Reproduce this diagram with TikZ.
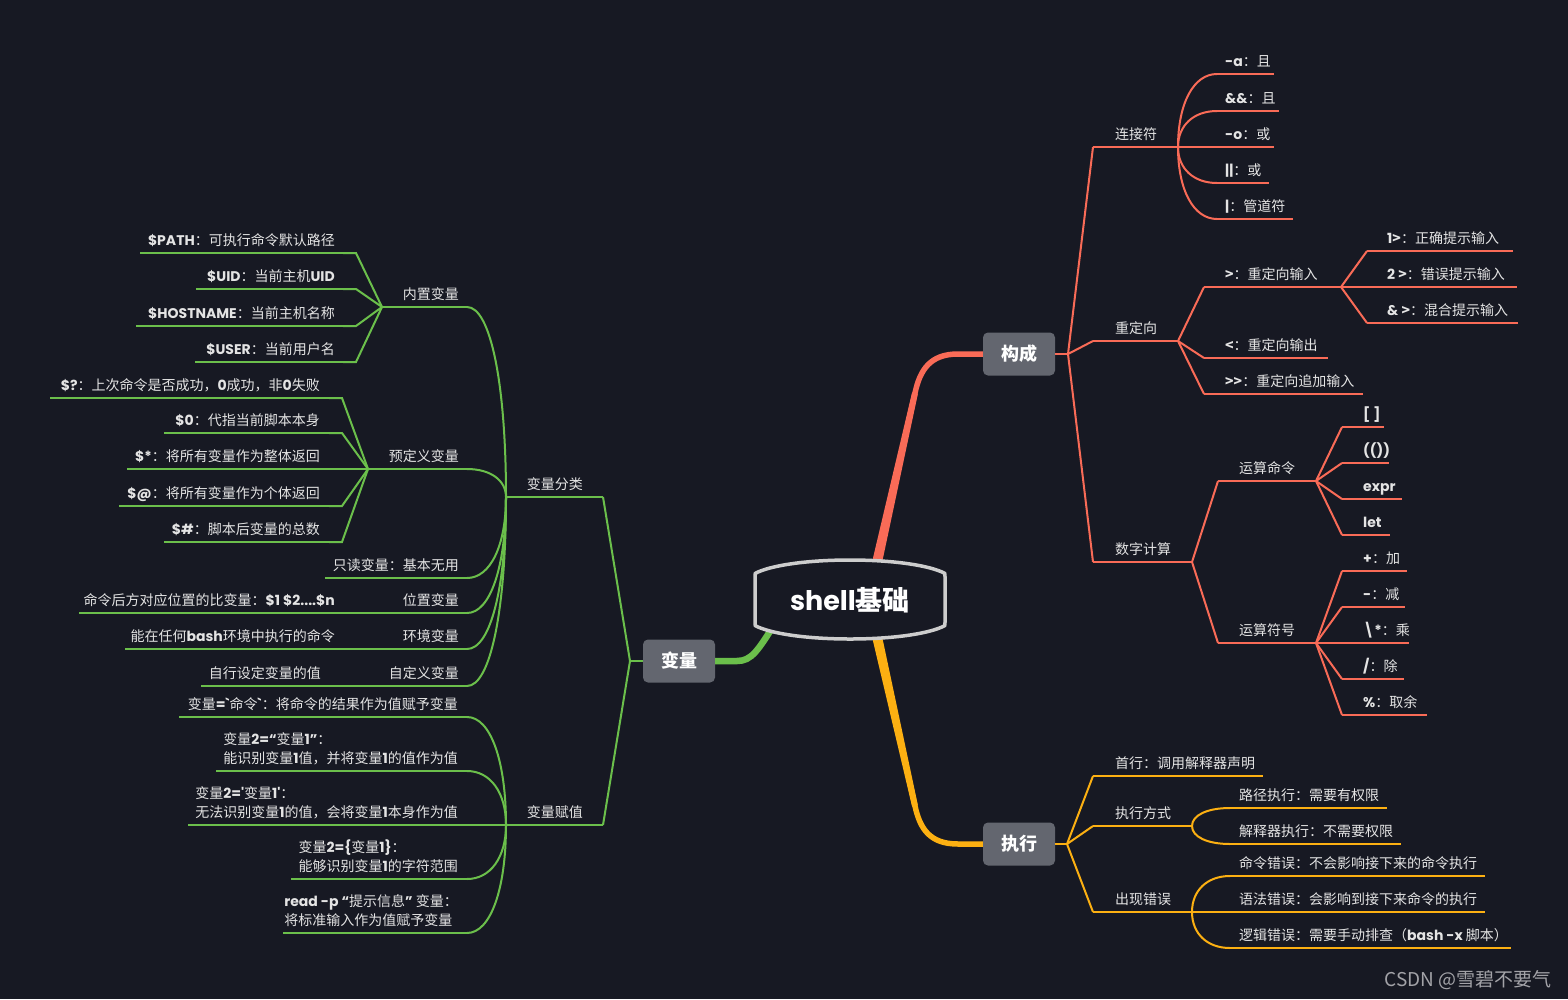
\documentclass[tikz,border=0pt]{standalone}
\usepackage{fontspec}
\setmainfont{Noto Sans CJK SC}
\newfontfamily\lbf{Poppins}
\usetikzlibrary{calc}
\definecolor{bgc}{HTML}{171923}
\definecolor{redc}{HTML}{F96B57}
\definecolor{grnc}{HTML}{6BBF4B}
\definecolor{ylwc}{HTML}{FCB012}
\definecolor{boxc}{HTML}{63666F}
\definecolor{txtc}{HTML}{E4E4E4}
\definecolor{wmc}{HTML}{A3A3A8}
\definecolor{rimc}{HTML}{CDCDCD}
\newcommand\lt[1]{{\lbf\bfseries #1}}
\newcommand\leafR[6]{%
  \coordinate (#1-s) at (#2,#3);
  \coordinate (#1-e) at (#4,#3);
  \node[lbl,anchor=base west] (#1) at (#5,#3-8) {#6};
  \draw[br] (#1-s) -- (#1-e);}
\newcommand\leafL[6]{%
  \coordinate (#1-s) at (#2,#3);
  \coordinate (#1-e) at (#4,#3);
  \node[lbl,anchor=base east] (#1) at (#5,#3-8) {#6};
  \draw[br] (#1-s) -- (#1-e);}
\newcommand\cv[2]{\draw[br] let \p1=(#1), \p2=(#2) in (\p1) .. controls (\x1,{\y1+0.6*(\y2-\y1)}) and ({\x2-0.6*(\x2-\x1)},\y2) .. (\p2);}
\begin{document}
\begin{tikzpicture}[x=1pt,y=-1pt,
  br/.style={line width=2pt,draw=redc},
  lbl/.style={inner sep=0pt,text=txtc,font=\fontsize{14}{19}\selectfont,align=left},
  topic/.style={fill=boxc,rounded corners=5pt,minimum width=72pt,minimum height=43pt,text=white,font=\fontsize{18}{18}\selectfont\bfseries,inner sep=0pt},
  thick/.style={line width=5.5pt}]
\fill[bgc] (0,0) rectangle (1568,999);
\useasboundingbox (0,0) rectangle (1568,999);

% anchors on the central topic
\coordinate (rootN) at (876,566);
\coordinate (rootS) at (876,633);
\coordinate (rootW) at (776,622);

% topic boxes
\node[topic] (gc) at (1019,354) {构成};
\node[topic] (zx) at (1019,844) {执行};
\node[topic] (bl) at (679,661) {变量};

% thick main branches (tapered)
\fill[redc] (871.1,566) -- (880.9,568) -- (917.9,393.7) -- (912.1,392.3) -- cycle;
\draw[thick,draw=redc] (rootN) -- (915,393) .. controls (920,370) and (930,354) .. (958,354) -- (gc.west);
\fill[ylwc] (871.1,633) -- (880.9,631) -- (917.9,805.3) -- (912.1,806.7) -- cycle;
\draw[thick,draw=ylwc] (rootS) -- (915,806) .. controls (920,829) and (930,844) .. (958,844) -- (zx.west);
\draw[line width=6.5pt,draw=grnc] (rootW) .. controls (758,650) and (752,661) .. (737,661) -- (bl.east);

% central topic
\path[draw=rimc,line width=3.5pt,fill=bgc]
  (758,572) .. controls (795,556) and (905,556) .. (942,572)
  .. controls (945,573) .. (945,577) -- (945,622) .. controls (945,626) .. (942,627)
  .. controls (905,643) and (795,643) .. (758,627)
  .. controls (755,626) .. (755,622) -- (755,577) .. controls (755,573) .. (758,572) -- cycle;
\node[text=white,font=\fontsize{27}{27}\selectfont\bfseries,inner sep=0pt] (root) at (850,600) {\lt{shell}基础};

% ---------- red: 构成 ----------
\begin{scope}[br/.style={line width=2pt,draw=redc}]
\coordinate (R0) at (1068,354);
\draw[br] (gc.east) -- (R0);
\leafR{ljf}{1093}{147}{1178}{1115}{连接符}
\draw[br] (R0) -- (ljf-s);
\leafR{a1}{1217}{74}{1274}{1225}{\lt{-a}：且}
\leafR{a2}{1217}{111}{1279}{1225}{\lt{\&\&}：且}
\leafR{a3}{1217}{147}{1274}{1225}{\lt{-o}：或}
\leafR{a4}{1217}{183}{1269}{1225}{\lt{||}：或}
\leafR{a5}{1217}{219}{1293}{1225}{\lt{|}：管道符}
\cv{ljf-e}{a1-s}\cv{ljf-e}{a2-s}\cv{ljf-e}{a3-s}\cv{ljf-e}{a4-s}\cv{ljf-e}{a5-s}

\leafR{cdx}{1093}{341}{1178}{1115}{重定向}
\draw[br] (R0) -- (cdx-s);
\leafR{b1}{1204}{287}{1341}{1225}{\textbf{>}：重定向输入}
\leafR{b2}{1204}{358}{1328}{1225}{\textbf{<}：重定向输出}
\leafR{b3}{1204}{394}{1363}{1225}{\textbf{>{}>}：重定向追加输入}
\draw[br] (cdx-e) -- (b1-s);
\draw[br] (cdx-e) -- (b2-s);
\draw[br] (cdx-e) -- (b3-s);
\leafR{c1}{1367}{251}{1513}{1387}{\lt{1}\textbf{>}：正确提示输入}
\leafR{c2}{1367}{287}{1517}{1387}{\lt{2} \textbf{>}：错误提示输入}
\leafR{c3}{1367}{323}{1518}{1387}{\lt{\&} \textbf{>}：混合提示输入}
\draw[br] (b1-e) -- (c1-s);
\draw[br] (b1-e) -- (c2-s);
\draw[br] (b1-e) -- (c3-s);

\leafR{szjs}{1093}{562}{1192}{1115}{数字计算}
\draw[br] (R0) -- (szjs-s);
\leafR{ysml}{1218}{481}{1316}{1239}{运算命令}
\leafR{ysfh}{1218}{643}{1316}{1239}{运算符号}
\draw[br] (szjs-e) -- (ysml-s);
\draw[br] (szjs-e) -- (ysfh-s);
\leafR{d1}{1342}{427}{1384}{1363}{\lt{[ ]}}
\leafR{d2}{1342}{463}{1389}{1363}{\lt{(())}}
\leafR{d3}{1342}{499}{1402}{1363}{\lt{expr}}
\leafR{d4}{1342}{535}{1390}{1363}{\lt{let}}
\foreach \q in {d1,d2,d3,d4} {\draw[br] (ysml-e) -- (\q-s);}
\leafR{e1}{1342}{571}{1407}{1363}{\lt{+}：加}
\leafR{e2}{1342}{607}{1405}{1363}{\lt{-}：减}
\leafR{e3}{1342}{643}{1409}{1363}{\lt{\textbackslash*}：乘}
\leafR{e4}{1342}{679}{1404}{1363}{\lt{/}：除}
\leafR{e5}{1342}{715}{1427}{1363}{\lt{\%}：取余}
\foreach \q in {e1,e2,e3,e4,e5} {\draw[br] (ysfh-e) -- (\q-s);}
\end{scope}

% ---------- yellow: 执行 ----------
\begin{scope}[br/.style={line width=2pt,draw=ylwc}]
\coordinate (R1) at (1067,844);
\draw[br] (zx.east) -- (R1);
\leafR{sh}{1093}{776}{1263}{1115}{首行：调用解释器声明}
\leafR{zxfs}{1093}{826}{1192}{1115}{执行方式}
\leafR{cxcw}{1093}{912}{1192}{1115}{出现错误}
\draw[br] (R1) -- (sh-s);
\draw[br] (R1) -- (zxfs-s);
\draw[br] (R1) -- (cxcw-s);
\leafR{f1}{1230}{808}{1387}{1239}{路径执行：需要有权限}
\leafR{f2}{1230}{844}{1401}{1239}{解释器执行：不需要权限}
\cv{zxfs-e}{f1-s}\cv{zxfs-e}{f2-s}
\leafR{g1}{1230}{876}{1485}{1239}{命令错误：不会影响接下来的命令执行}
\leafR{g2}{1230}{912}{1485}{1239}{语法错误：会影响到接下来命令的执行}
\leafR{g3}{1230}{948}{1511}{1239}{逻辑错误：需要手动排查（\lt{bash -x} 脚本）}
\cv{cxcw-e}{g1-s}\cv{cxcw-e}{g2-s}\cv{cxcw-e}{g3-s}
\end{scope}

% ---------- green: 变量 ----------
\begin{scope}[br/.style={line width=2pt,draw=grnc}]
\coordinate (G0) at (630,661);
\draw[br] (bl.west) -- (G0);
\leafL{blfl}{506}{497}{603}{583}{变量分类}
\leafL{blfz}{506}{825}{603}{583}{变量赋值}
\draw[br] (G0) -- (blfl-e);
\draw[br] (G0) -- (blfz-e);

\leafL{nz}{382}{307}{467}{459}{内置变量}
\leafL{ydy}{368}{469}{467}{459}{预定义变量}
\leafL{zd}{325}{578}{467}{459}{只读变量：基本无用}
\leafL{wz}{395}{613}{467}{459}{位置变量}
\leafL{hj}{395}{649}{467}{459}{环境变量}
\leafL{zdy}{381}{686}{467}{459}{自定义变量}
\cv{blfl-s}{nz-e}\cv{blfl-s}{ydy-e}\cv{blfl-s}{zd-e}\cv{blfl-s}{wz-e}\cv{blfl-s}{hj-e}\cv{blfl-s}{zdy-e}

\leafL{h1}{140}{253}{343}{335}{\lt{\$PATH}：可执行命令默认路径}
\leafL{h2}{196}{289}{343}{335}{\lt{\$UID}：当前主机\lt{UID}}
\leafL{h3}{136}{326}{343}{335}{\lt{\$HOSTNAME}：当前主机名称}
\leafL{h4}{195}{362}{343}{335}{\lt{\$USER}：当前用户名}
\foreach \q in {h1,h2,h3,h4} {\draw[br] (nz-s) -- ($(\q-e)+(13,0)$) -- (\q-e);}

\leafL{p1}{50}{398}{329}{320}{\lt{\$?}：上次命令是否成功，\lt{0}成功，非\lt{0}失败}
\leafL{p2}{164}{433}{329}{320}{\lt{\$0}：代指当前脚本本身}
\leafL{p3}{127}{469}{329}{320}{\lt{\$*}：将所有变量作为整体返回}
\leafL{p4}{119}{506}{329}{320}{\lt{\$@}：将所有变量作为个体返回}
\leafL{p5}{164}{542}{329}{320}{\lt{\$\#}：脚本后变量的总数}
\foreach \q in {p1,p2,p3,p4,p5} {\draw[br] (ydy-s) -- ($(\q-e)+(13,0)$) -- (\q-e);}

\leafL{w1}{79}{613}{343}{335}{命令后方对应位置的比变量：\lt{\$1 \$2....\$n}}
\draw[br] (wz-s) -- (w1-e);
\leafL{hj1}{125}{649}{343}{335}{能在任何\lt{bash}环境中执行的命令}
\draw[br] (hj-s) -- (hj1-e);
\leafL{zdy1}{201}{686}{329}{321}{自行设定变量的值}
\draw[br] (zdy-s) -- (zdy1-e);

\leafL{v1}{179}{717}{467}{458}{变量\lt{=\textasciigrave}命令\lt{\textasciigrave}：将命令的结果作为值赋予变量}
\leafL{v2}{216}{771}{467}{458}{变量\lt{2=“}变量\lt{1”}：\\能识别变量\lt{1}值，并将变量\lt{1}的值作为值}
\leafL{v3}{188}{825}{467}{458}{变量\lt{2=\textquotesingle}变量\lt{1\textquotesingle}：\\无法识别变量\lt{1}的值，会将变量\lt{1}本身作为值}
\leafL{v4}{291}{879}{467}{458}{变量\lt{2=\{}变量\lt{1\}}：\\能够识别变量\lt{1}的字符范围}
\leafL{v5}{283}{933}{467}{458}{\lt{read -p “}提示信息\lt{”} 变量：\\将标准输入作为值赋予变量}
\cv{blfz-s}{v1-e}\cv{blfz-s}{v2-e}\cv{blfz-s}{v3-e}\cv{blfz-s}{v4-e}\cv{blfz-s}{v5-e}
\end{scope}

\node[anchor=base east,inner sep=0pt,text=wmc,font=\fontsize{19}{19}\selectfont] (wm) at (1552,986) {CSDN @雪碧不要气};
\end{tikzpicture}
\end{document}
